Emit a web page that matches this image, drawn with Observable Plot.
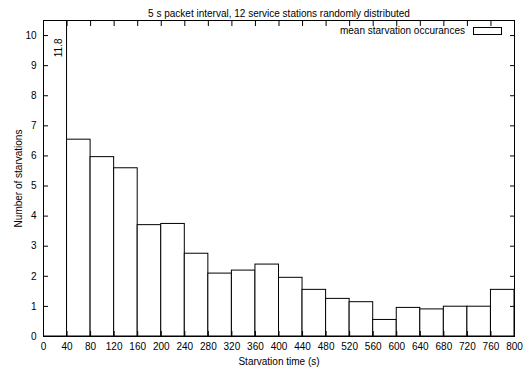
<!DOCTYPE html>
<html><head><meta charset="utf-8">
<script src="https://cdn.jsdelivr.net/npm/d3@7"></script>
<script src="https://cdn.jsdelivr.net/npm/@observablehq/plot@0.6"></script>
<style>
body{margin:0;background:#fff;}
#wrap{position:relative;width:529px;height:372px;font-family:"Liberation Sans",Arial,sans-serif;}
#legend{position:absolute;top:25px;right:27px;font-size:10px;display:flex;align-items:center;gap:8px;}
#legend span.box{display:inline-block;width:27px;height:6px;border:1px solid #000;background:#fff;}
</style></head>
<body><div id="wrap"><div id="legend"><span>mean starvation occurances</span><span class="box"></span></div></div>
<script>
const binStart = [0,40,80,120,160,200,240,280,320,360,400,440,480,520,560,600,640,680,720,760];
const binWidth = 40;
const values = [11.8,6.54,5.96,5.59,3.70,3.74,2.75,2.09,2.19,2.39,1.95,1.55,1.25,1.14,0.55,0.95,0.90,0.99,0.99,1.55];
const xTicks = [0,40,80,120,160,200,240,280,320,360,400,440,480,520,560,600,640,680,720,760,800];
const yTicks = [0,1,2,3,4,5,6,7,8,9,10];
const title = "5 s packet interval, 12 service stations randomly distributed";

const data = binStart.map((s,i)=>({x1:s,x2:s+binWidth,y:values[i]}));

const chart = Plot.plot({
  width:529, height:372,
  marginLeft:43, marginRight:15, marginTop:20, marginBottom:36,
  style:{fontFamily:"Liberation Sans, Arial, sans-serif", fontSize:"10px", color:"#000", background:"#fff"},
  x:{domain:[0,800]},
  y:{domain:[0,10.5]},
  marks:[
    Plot.rectY(data,{x1:"x1",x2:"x2",y:"y",fill:"white",stroke:"black",strokeWidth:1,clip:true}),
    Plot.text([data[0]],{x:d=>(d.x1+d.x2)/2,frameAnchor:"top",dy:18,text:d=>String(d.y),rotate:-90,textAnchor:"end",fontSize:10}),
    Plot.axisX(xTicks,{anchor:"bottom",tickSize:-5,tickPadding:11,label:"Starvation time (s)",labelAnchor:"center",labelOffset:28,labelArrow:"none"}),
    Plot.axisX(xTicks,{anchor:"top",tickSize:-5,text:null,label:null}),
    Plot.axisY(yTicks,{anchor:"left",tickSize:-5,tickPadding:12,label:"Number of starvations",labelAnchor:"center",labelOffset:29,labelArrow:"none"}),
    Plot.axisY(yTicks,{anchor:"right",tickSize:-5,text:null,label:null}),
    Plot.frame({stroke:"black",strokeWidth:1}),
    Plot.text([title],{text:d=>d,frameAnchor:"top",dy:-11,fontSize:10})
  ]
});
document.getElementById("wrap").prepend(chart);
</script></body></html>
